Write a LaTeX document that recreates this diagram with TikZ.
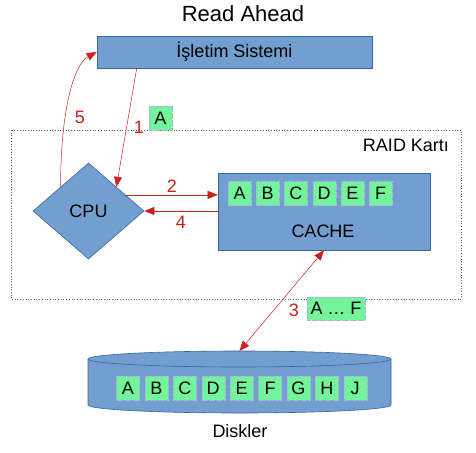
\documentclass[tikz,border=0pt]{standalone}
\usepackage{fontspec}
\setmainfont{Liberation Sans}
\usepackage{tikz}
\usetikzlibrary{arrows,arrows.meta,shapes.geometric,calc}
\definecolor{boxblue}{HTML}{729FCF}
\definecolor{boxline}{HTML}{3465A4}
\definecolor{cellgreen}{HTML}{72F59A}
\definecolor{arrowred}{HTML}{C9211E}
\tikzstyle{es} = [arrowred, line width=0.5pt, -{Triangle[length=10pt,width=8pt]}]
\tikzstyle{des} = [arrowred, line width=0.5pt, {Triangle[length=10pt,width=8pt]}-{Triangle[length=10pt,width=8pt]}]
\tikzstyle{blk} = [draw=boxline, fill=boxblue, line width=0.6pt, inner sep=0pt]
\tikzstyle{cell} = [fill=cellgreen, draw=boxline!45, densely dotted, line width=0.15pt, minimum width=23pt, minimum height=24pt, inner sep=0pt]
\tikzstyle{num} = [text=arrowred]

\begin{document}
\begin{tikzpicture}[yscale=-1, font=\fontsize{18}{20}\selectfont]
			\useasboundingbox (0pt,0pt) rectangle (476pt,452pt);
			\node at (243pt,14pt){\fontsize{22}{24}\selectfont Read Ahead};
			\draw[boxline, dotted, line width=0.7pt] (11pt,130pt) rectangle (461pt,299pt);
			\node (raid) at (406pt,145pt){RAID Kartı};
			\node[blk, minimum width=275pt, minimum height=32pt] (os) at (234.5pt,52pt){İşletim Sistemi};
			\node[blk, diamond, minimum width=111pt, minimum height=96pt] (cpu) at (88.5pt,211pt){CPU};
			\node[blk, minimum width=212pt, minimum height=77pt] (cache) at (324pt,211.5pt){};
			\node (cachelbl) at (323pt,231pt){CACHE};
			\foreach \l [count=\i from 0] in {A,B,C,D,E,F}
				\node[cell] (c\l) at (239.5pt+28.2pt*\i,193.5pt){\l};
			% disks
			\fill[boxblue] (88pt,359pt) -- (88pt,405pt) arc[start angle=180, end angle=0, x radius=151.5pt, y radius=8pt] -- (391pt,359pt) -- cycle;
			\draw[boxline, line width=0.6pt] (88pt,359pt) -- (88pt,405pt) arc[start angle=180, end angle=0, x radius=151.5pt, y radius=8pt] -- (391pt,359pt);
			\draw[boxline, fill=boxblue, line width=0.6pt] (239.5pt,359pt) ellipse [x radius=151.5pt, y radius=8pt];
			\coordinate (disktop) at (239.5pt,351pt);
			\foreach \l [count=\i from 0] in {A,B,C,D,E,F,G,H,J}
				\node[cell] (d\l) at (128pt+28.4pt*\i,388pt){\l};
			\node (disk) at (240pt,431pt){Diskler};
			% arrows
			\coordinate (a1) at ($(os.south west)+(40pt,0pt)$);
			\draw[es] (a1) -- (cpu.north east);
			\node[num] (n1) at (139pt,127pt){1};
			\node[cell] (rA) at (160.5pt,118pt){A};
			\coordinate (a2) at ($(cpu.north east)!0.333!(cpu.east)$);
			\draw[es] (a2) -- (a2 -| cache.west);
			\node[num] (n2) at (172pt,186pt){2};
			\draw[es] (cpu.east -| cache.west) -- (cpu.east);
			\node[num] (n4) at (181pt,222pt){4};
			\draw[des] (cache.south) -- (disktop);
			\node[num] (n3) at (294pt,310pt){3};
			\node[cell, minimum width=58pt, minimum height=23pt] (rAF) at (336pt,308.5pt){A … F};
			\draw[es] (cpu.north west) .. controls +(0pt,-80pt) and +(-22pt,12pt) .. (os.west);
			\node[num] (n5) at (80pt,117pt){5};
		\end{tikzpicture}
\end{document}
